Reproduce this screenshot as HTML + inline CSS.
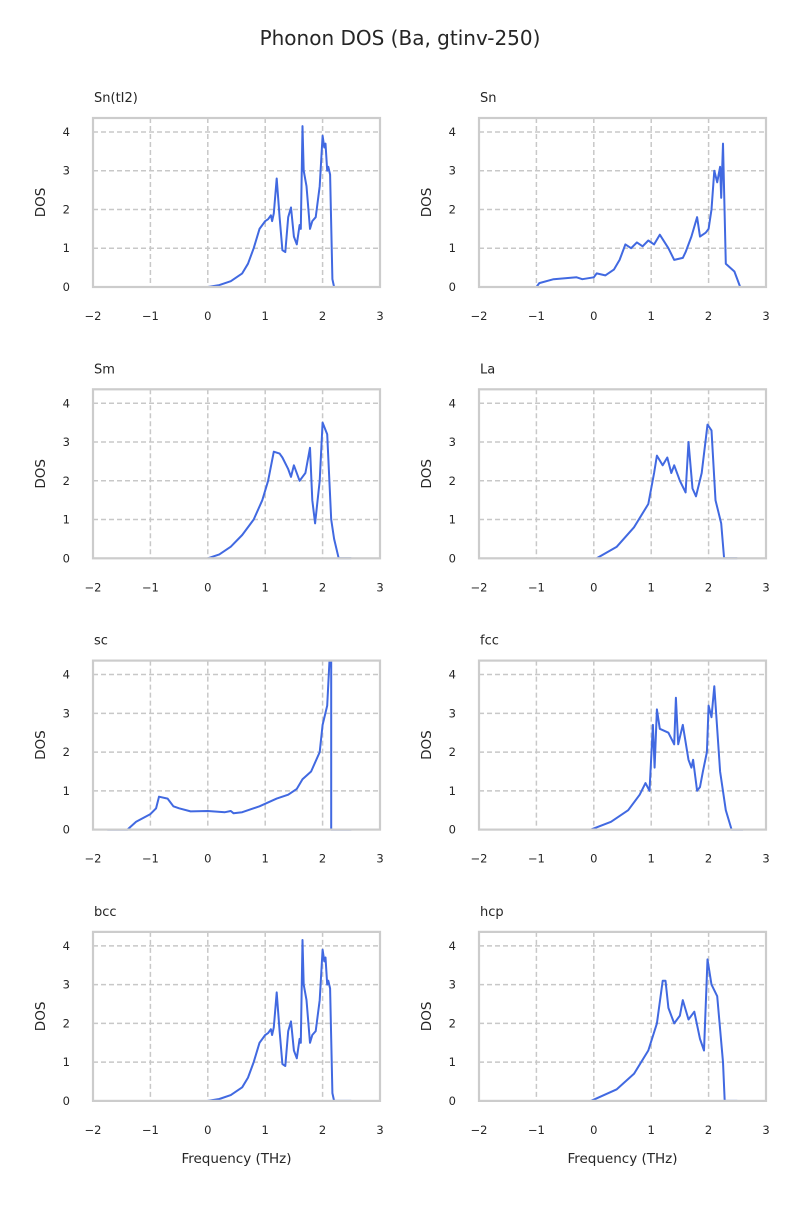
<!DOCTYPE html>
<html><head><meta charset="utf-8"><style>
body{margin:0;background:#fff;font-family:"Liberation Sans","DejaVu Sans",sans-serif}
svg text{font-family:"DejaVu Sans","Liberation Sans",sans-serif;fill:#262626}
</style></head><body>
<svg id="fig" width="800" height="1200" xmlns="http://www.w3.org/2000/svg">
<text x="400" y="45" text-anchor="middle" font-size="20">Phonon DOS (Ba, gtinv-250)</text>
</svg>
<script>
const titles=["Sn(tI2)","Sn","Sm","La","sc","fcc","bcc","hcp"];
const xTicks=[-2,-1,0,1,2,3];
const yTicks=[0,1,2,3,4];
const fSnTI2=[0,0.2,0.4,0.5,0.6,0.7,0.8,0.9,1.0,1.05,1.1,1.12,1.15,1.2,1.25,1.3,1.35,1.4,1.45,1.5,1.55,1.6,1.62,1.65,1.67,1.72,1.78,1.82,1.88,1.95,2.0,2.03,2.05,2.08,2.1,2.13,2.17,2.2,2.5];
const dSnTI2=[0,0.05,0.15,0.25,0.35,0.6,1.0,1.5,1.7,1.75,1.85,1.7,1.9,2.8,1.8,0.95,0.9,1.8,2.05,1.3,1.1,1.6,1.5,4.15,3.0,2.6,1.5,1.7,1.8,2.6,3.9,3.6,3.7,3.0,3.1,2.9,0.2,0,0];
const fSn=[-1.3,-1.0,-0.95,-0.7,-0.3,-0.2,0,0.05,0.2,0.35,0.45,0.55,0.65,0.75,0.85,0.95,1.05,1.15,1.3,1.4,1.55,1.6,1.7,1.8,1.85,1.95,2.0,2.05,2.1,2.15,2.2,2.22,2.25,2.3,2.45,2.55,2.9];
const dSn=[0,0,0.1,0.2,0.25,0.2,0.25,0.35,0.3,0.45,0.7,1.1,1.0,1.15,1.05,1.2,1.1,1.35,1.0,0.7,0.75,0.9,1.3,1.8,1.3,1.4,1.5,2.0,3.0,2.7,3.1,2.3,3.7,0.6,0.4,0,0];
const fSm=[0,0.2,0.4,0.6,0.8,0.95,1.05,1.15,1.25,1.3,1.4,1.45,1.5,1.6,1.7,1.78,1.82,1.87,1.95,2.0,2.08,2.15,2.2,2.28,2.5];
const dSm=[0,0.1,0.3,0.6,1.0,1.5,2.0,2.75,2.7,2.6,2.3,2.1,2.4,2.0,2.2,2.85,1.5,0.9,2.0,3.5,3.2,1.0,0.5,0,0];
const fLa=[0.05,0.4,0.7,0.95,1.05,1.1,1.2,1.28,1.35,1.4,1.5,1.6,1.65,1.72,1.78,1.88,1.98,2.05,2.12,2.22,2.27,2.5];
const dLa=[0,0.3,0.8,1.4,2.2,2.65,2.4,2.6,2.2,2.4,2.0,1.7,3.0,1.8,1.6,2.2,3.45,3.3,1.5,0.9,0,0];
const fSc=[-1.75,-1.4,-1.25,-1.0,-0.9,-0.85,-0.7,-0.6,-0.5,-0.3,0,0.3,0.4,0.45,0.6,0.9,1.2,1.4,1.55,1.65,1.8,1.95,2.0,2.08,2.12,2.15,2.15,2.5];
const dSc=[0,0,0.2,0.4,0.55,0.85,0.8,0.6,0.55,0.47,0.48,0.45,0.48,0.42,0.45,0.6,0.8,0.9,1.05,1.3,1.5,2.0,2.7,3.2,4.4,4.4,0,0];
const fFcc=[-0.05,0.3,0.6,0.8,0.9,0.97,1.03,1.06,1.1,1.15,1.3,1.4,1.43,1.47,1.55,1.65,1.7,1.73,1.8,1.85,1.9,1.97,2.0,2.05,2.1,2.2,2.3,2.4,2.6];
const dFcc=[0,0.2,0.5,0.9,1.2,1.0,2.7,1.6,3.1,2.6,2.5,2.2,3.4,2.2,2.7,1.8,1.6,1.8,1.0,1.1,1.5,2.0,3.2,2.9,3.7,1.5,0.5,0,0];
const fHcp=[-0.05,0.4,0.7,0.95,1.1,1.2,1.25,1.3,1.4,1.5,1.55,1.65,1.75,1.85,1.92,1.98,2.05,2.15,2.25,2.28,2.5];
const dHcp=[0,0.3,0.7,1.3,2.0,3.1,3.1,2.4,2.0,2.2,2.6,2.1,2.3,1.6,1.3,3.65,3.0,2.7,1.0,0,0];
const freqs=[fSnTI2,fSn,fSm,fLa,fSc,fFcc,fSnTI2,fHcp];
const doses=[dSnTI2,dSn,dSm,dLa,dSc,dFcc,dSnTI2,dHcp];

const NS="http://www.w3.org/2000/svg";
const svg=document.getElementById('fig');
function mk(t,a,p){const e=document.createElementNS(NS,t);for(const k in a)e.setAttribute(k,a[k]);(p||svg).appendChild(e);return e;}
const W=287,H=169,XMIN=-2,XMAX=3,YMIN=0,YMAX=4.36;
for(let i=0;i<8;i++){
  const col=i%2,row=Math.floor(i/2);
  const L=col?479:93,T=118+row*271.3;
  const sx=v=>L+(v-XMIN)/(XMAX-XMIN)*W;
  const sy=v=>T+H-(v-YMIN)/(YMAX-YMIN)*H;
  const g=mk('g',{});
  
  
  xTicks.forEach(t=>{
    if(t>XMIN&&t<XMAX){const l=mk('line',{x1:sx(t),x2:sx(t),y1:T,y2:T+H,stroke:'#c8c8c8','stroke-width':1.5,'stroke-dasharray':'5,3'},g);
    }
    const tx=mk('text',{x:sx(t),y:T+H+33,'text-anchor':'middle','font-size':11.5},g);tx.textContent=(t<0?'\u2212'+(-t):t);
    
  });
  yTicks.forEach(t=>{
    if(t>YMIN){const l=mk('line',{x1:L,x2:L+W,y1:sy(t),y2:sy(t),stroke:'#c8c8c8','stroke-width':1.5,'stroke-dasharray':'5,3'},g);
    }
    const tx=mk('text',{x:L-23,y:sy(t)+4,'text-anchor':'end','font-size':11.5},g);tx.textContent=t;
    
  });
  const fr=freqs[i],ds=doses[i];
  const base=mk('line',{x1:sx(fr[0]),x2:sx(fr[fr.length-1]),y1:sy(0),y2:sy(0),stroke:'#9fb3f0','stroke-width':1.5},g);
  
  const pts=fr.map((f,j)=>sx(f).toFixed(1)+','+sy(Math.min(ds[j],YMAX)).toFixed(1)).join(' ');
  const pl=mk('polyline',{points:pts,fill:'none',stroke:'#4169e1','stroke-width':2,'stroke-linejoin':'round'},g);
  
  const fr2=mk('rect',{x:L,y:T,width:W,height:H,fill:'none',stroke:'#cccccc','stroke-width':2.2},g);
  
  const tt=mk('text',{x:L+1,y:T-16,'font-size':13},g);tt.textContent=titles[i];
  
  const yl=mk('text',{x:0,y:0,'font-size':13.5,'text-anchor':'middle',transform:`translate(${L-48},${T+H/2}) rotate(-90)`},g);yl.textContent='DOS';
  
  if(row===3){const xl=mk('text',{x:L+W/2,y:T+H+62,'font-size':13.5,'text-anchor':'middle'},g);xl.textContent='Frequency (THz)';
    }
}
</script>
</body></html>
